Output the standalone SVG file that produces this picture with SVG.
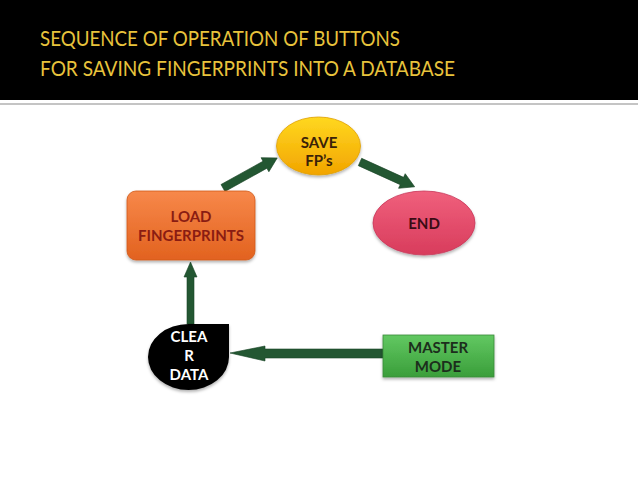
<svg xmlns="http://www.w3.org/2000/svg" width="638" height="479" viewBox="0 0 638 479">
<defs>
<style>
.title{font-family:Lato,"Liberation Sans",sans-serif;font-size:21px;fill:#e8c33c}
.lbl{font-family:Lato,"Liberation Sans",sans-serif;font-size:15px;text-anchor:middle;font-weight:bold}
.arr{fill:#235732;stroke:#1a4426;stroke-width:0.6}
</style>
<linearGradient id="gSave" x1="0" y1="0" x2="0" y2="1"><stop offset="0" stop-color="#ffd820"/><stop offset="1" stop-color="#f2a400"/></linearGradient>
<linearGradient id="gEnd" x1="0" y1="0" x2="0" y2="1"><stop offset="0" stop-color="#f0607c"/><stop offset="1" stop-color="#d83c5c"/></linearGradient>
<linearGradient id="gLoad" x1="0" y1="0" x2="0" y2="1"><stop offset="0" stop-color="#f7884a"/><stop offset="1" stop-color="#e2621f"/></linearGradient>
<linearGradient id="gMaster" x1="0" y1="0" x2="0" y2="1"><stop offset="0" stop-color="#62c862"/><stop offset="1" stop-color="#3a9e3a"/></linearGradient>
<filter id="sh" x="-20%" y="-20%" width="140%" height="150%"><feDropShadow dx="0" dy="2" stdDeviation="1.5" flood-color="#000" flood-opacity="0.3"/></filter>
</defs>
<rect x="0" y="0" width="638" height="479" fill="#ffffff"/>
<rect x="0" y="0" width="638" height="100" fill="#000000"/>
<rect x="0" y="103" width="638" height="2" fill="#c4c4c4"/>
<text class="title" x="40" y="46" textLength="360" lengthAdjust="spacingAndGlyphs">SEQUENCE OF OPERATION OF BUTTONS</text>
<text class="title" x="40" y="76" textLength="415" lengthAdjust="spacingAndGlyphs">FOR SAVING FINGERPRINTS INTO A DATABASE</text>

<g id="connectors">
<polygon class="arr" points="230,353 265,346 265,349 383,349 383,358 265,358 265,361"/>
<polygon class="arr" points="190.5,262 197,277 194,277 194,324 187,324 187,277 184,277"/>
<polygon class="arr" transform="translate(223,188) rotate(-29)" points="0,-4 48,-4 48,-8 62,0 48,8 48,4 0,4"/>
<polygon class="arr" transform="translate(360,162) rotate(24.4)" points="0,-4 46,-4 46,-8 60,0 46,8 46,4 0,4"/>
</g>

<g id="save">
<ellipse cx="318.5" cy="146" rx="42" ry="29" fill="url(#gSave)" stroke="#e0a000" stroke-width="0.8" filter="url(#sh)"/>
<text class="lbl" x="319" y="148" fill="#3a2208">SAVE</text>
<text class="lbl" x="319" y="166" fill="#3a2208">FP’s</text>
</g>
<g id="end">
<ellipse cx="424" cy="223" rx="51" ry="32" fill="url(#gEnd)" stroke="#c8385a" stroke-width="0.8" filter="url(#sh)"/>
<text class="lbl" x="424" y="229" fill="#3a0c14">END</text>
</g>
<g id="load">
<rect x="127" y="191" width="128" height="69" rx="9" fill="url(#gLoad)" stroke="#d05818" stroke-width="0.8" filter="url(#sh)"/>
<text class="lbl" x="191" y="222" fill="#8a1c12" font-weight="normal">LOAD</text>
<text class="lbl" x="191" y="241" fill="#8a1c12" font-weight="normal">FINGERPRINTS</text>
</g>
<g id="clear">
<path d="M229,324 L229,357 A40.5,33 0 0 1 188.5,390 A40.5,33 0 0 1 148,357 A40.5,33 0 0 1 188.5,324 Z" fill="#000000" filter="url(#sh)"/>
<text class="lbl" x="189" y="342" fill="#ffffff">CLEA</text>
<text class="lbl" x="189" y="361" fill="#ffffff">R</text>
<text class="lbl" x="189" y="380" fill="#ffffff">DATA</text>
</g>
<g id="master">
<rect x="383" y="335" width="111" height="42" fill="url(#gMaster)" stroke="#3a8a3a" stroke-width="0.8" filter="url(#sh)"/>
<text class="lbl" x="438" y="353" fill="#1c2e1c">MASTER</text>
<text class="lbl" x="438" y="372" fill="#1c2e1c">MODE</text>
</g>
</svg>
